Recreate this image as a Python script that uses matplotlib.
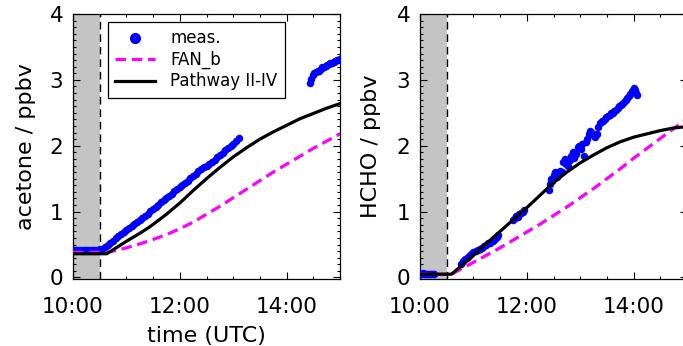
import matplotlib
matplotlib.use("Agg")
import matplotlib.pyplot as plt
from matplotlib.lines import Line2D
from matplotlib.ticker import MultipleLocator, FixedLocator, FuncFormatter

plt.rcParams['font.family'] = ['DejaVu Sans']

# ---------------- data (time in decimal hours UTC) ----------------
# acetone measurements
ace_meas_t = [10.00, 10.05, 10.10, 10.15, 10.20, 10.25, 10.30, 10.35, 10.40, 10.45,
              10.50, 10.55, 10.60, 10.65, 10.70, 10.75, 10.80, 10.85, 10.90, 10.95,
              11.00, 11.05, 11.10, 11.15, 11.20, 11.25, 11.30, 11.35, 11.40, 11.45,
              11.50, 11.55, 11.60, 11.65, 11.70, 11.75, 11.80, 11.85, 11.90, 11.95,
              12.00, 12.05, 12.10, 12.15, 12.20, 12.25, 12.30, 12.35, 12.40, 12.45,
              12.50, 12.55, 12.60, 12.65, 12.70, 12.75, 12.80, 12.85, 12.90, 12.95,
              13.00, 13.05, 13.10,
              14.43, 14.46, 14.49, 14.52, 14.55, 14.58, 14.61, 14.64, 14.67, 14.70,
              14.73, 14.76, 14.79, 14.82, 14.85, 14.88, 14.91, 14.94, 14.97, 15.00]
ace_meas_v = [0.42, 0.42, 0.41, 0.42, 0.42, 0.41, 0.42, 0.42, 0.42, 0.42,
              0.43, 0.44, 0.46, 0.49, 0.53, 0.56, 0.60, 0.63, 0.66, 0.69,
              0.72, 0.75, 0.78, 0.81, 0.84, 0.87, 0.91, 0.94, 0.97, 1.01,
              1.04, 1.07, 1.10, 1.14, 1.17, 1.21, 1.24, 1.27, 1.31, 1.34,
              1.37, 1.41, 1.44, 1.47, 1.51, 1.54, 1.57, 1.61, 1.64, 1.67,
              1.70, 1.73, 1.76, 1.79, 1.83, 1.86, 1.89, 1.93, 1.96, 2.00,
              2.03, 2.07, 2.11,
              2.95, 3.02, 3.07, 3.10, 3.12, 3.14, 3.13, 3.17, 3.19, 3.20,
              3.21, 3.23, 3.24, 3.25, 3.26, 3.27, 3.28, 3.30, 3.30, 3.31]

# acetone models
ace_mod_t = [10.00, 10.63, 10.75, 11.00, 11.25, 11.44, 11.75, 12.00, 12.25, 12.50,
             12.75, 13.00, 13.25, 13.50, 13.75, 14.00, 14.25, 14.50, 14.75, 15.00]
ace_path_v = [0.36, 0.36, 0.42, 0.55, 0.67, 0.77, 0.96, 1.13, 1.32, 1.50,
              1.67, 1.83, 1.97, 2.10, 2.21, 2.31, 2.41, 2.49, 2.57, 2.64]
ace_fan_v = [0.38, 0.38, 0.40, 0.45, 0.51, 0.56, 0.65, 0.74, 0.84, 0.96,
             1.08, 1.21, 1.34, 1.47, 1.60, 1.72, 1.84, 1.96, 2.07, 2.18]

# HCHO measurements
hcho_meas_t = [10.00, 10.03, 10.06, 10.09, 10.12, 10.15, 10.18, 10.21, 10.24, 10.27,
               10.76, 10.80, 10.84, 10.88, 10.92, 10.96, 11.00, 11.04, 11.08, 11.12,
               11.16, 11.20, 11.24, 11.28, 11.32, 11.36, 11.40, 11.44, 11.47,
               11.74, 11.77, 11.80, 11.83, 11.86, 11.89, 11.92, 11.95,
               12.41, 12.43, 12.45, 12.47, 12.50, 12.53, 12.56, 12.59, 12.62, 12.65,
               12.68, 12.71, 12.74, 12.77, 12.80, 12.83, 12.86, 12.89, 12.92, 12.95,
               12.98, 13.01, 13.04, 13.07, 13.10, 13.13, 13.16, 13.19, 13.22, 13.25,
               13.28, 13.31, 13.34, 13.37, 13.40, 13.43, 13.46, 13.49, 13.52, 13.55,
               13.58, 13.61, 13.64, 13.67, 13.70, 13.73, 13.76, 13.79, 13.82, 13.85,
               13.88, 13.91, 13.94, 13.97, 14.00, 14.02, 14.04, 14.06]
hcho_meas_v = [0.06, 0.05, 0.07, 0.06, 0.05, 0.06, 0.05, 0.06, 0.05, 0.06,
               0.21, 0.25, 0.28, 0.30, 0.33, 0.36, 0.38, 0.40, 0.42, 0.44,
               0.45, 0.48, 0.50, 0.52, 0.53, 0.55, 0.58, 0.62, 0.65,
               0.88, 0.90, 0.93, 0.92, 0.96, 0.98, 1.00, 1.02,
               1.33, 1.42, 1.50, 1.46, 1.55, 1.60, 1.52, 1.58, 1.62, 1.60,
               1.75, 1.80, 1.72, 1.70, 1.78, 1.85, 1.90, 1.82, 1.88, 1.98,
               2.00, 1.95, 2.02, 1.85, 2.05, 2.10, 2.18, 2.22, 2.20, 2.15,
               2.14, 2.18, 2.28, 2.35, 2.38, 2.37, 2.40, 2.44, 2.45, 2.47,
               2.49, 2.50, 2.53, 2.55, 2.57, 2.60, 2.62, 2.64, 2.66, 2.70,
               2.72, 2.75, 2.79, 2.83, 2.87, 2.84, 2.80, 2.77]

# HCHO models
hcho_mod_t = [10.00, 10.59, 10.75, 11.00, 11.25, 11.50, 11.75, 12.00, 12.25, 12.50,
              12.75, 13.00, 13.25, 13.50, 13.75, 14.00, 14.25, 14.50, 14.75, 15.00]
hcho_path_v = [0.05, 0.05, 0.16, 0.34, 0.52, 0.70, 0.88, 1.06, 1.25, 1.44,
               1.60, 1.74, 1.86, 1.97, 2.06, 2.13, 2.18, 2.23, 2.27, 2.29]
hcho_fan_v = [0.05, 0.05, 0.12, 0.23, 0.34, 0.45, 0.57, 0.69, 0.81, 0.94,
              1.07, 1.21, 1.35, 1.50, 1.65, 1.81, 1.96, 2.11, 2.26, 2.41]

x_ticks = [10, 12, 14]
x_ticklabels = ["10:00", "12:00", "14:00"]
y_ticks = [0, 1, 2, 3, 4]
legend_labels = ["meas.", "FAN_b", "Pathway II-IV"]
ylabels = ["acetone / ppbv", "HCHO / ppbv"]

# ---------------- styling ----------------
BLUE = "#0000FF"
MAG = "#FF00FF"
GREY = "#C4C4C4"

fig = plt.figure(figsize=(6.83, 3.46), dpi=100)
W, H = 683.0, 346.0
ax1 = fig.add_axes([73 / W, 1 - 279 / H, 267 / W, 265 / H])
ax2 = fig.add_axes([420 / W, 1 - 279 / H, 267 / W, 265 / H])


def fmt_time(v, pos):
    k = int(round(v))
    return x_ticklabels[x_ticks.index(k)] if k in x_ticks else ""


def draw(ax, mt, mv, modt, pathv, fanv, ylabel):
    ax.axvspan(10.0, 10.5, color=GREY, zorder=0, lw=0)
    ax.axvline(10.5, color="black", lw=1.0, ls=(0, (5.5, 3.5)), zorder=1)
    ax.plot(mt, mv, ls="none", marker="o", ms=5.4, mfc=BLUE, mec=BLUE, mew=0, zorder=3)
    ax.plot(modt, fanv, color=MAG, lw=2.3, ls=(0, (3.3, 1.8)), zorder=4)
    ax.plot(modt, pathv, color="black", lw=2.3, zorder=5, solid_joinstyle="round")
    ax.set_xlim(10.0, 15.0)
    ax.set_ylim(-0.023, 4.0)
    ax.xaxis.set_major_locator(FixedLocator(x_ticks))
    ax.xaxis.set_major_formatter(FuncFormatter(fmt_time))
    ax.xaxis.set_minor_locator(MultipleLocator(0.5))
    ax.yaxis.set_major_locator(FixedLocator(y_ticks))
    ax.yaxis.set_minor_locator(MultipleLocator(0.1))
    ax.tick_params(which="both", direction="in", top=True, right=True, width=0.8)
    ax.tick_params(which="major", length=5, labelsize=15.5)
    ax.tick_params(which="minor", length=2.5)
    ax.tick_params(axis="x", which="major", pad=13)
    ax.tick_params(axis="y", which="major", pad=7)
    for s in ax.spines.values():
        s.set_linewidth(0.9)
    ax.set_ylabel(ylabel, fontsize=16)


draw(ax1, ace_meas_t, ace_meas_v, ace_mod_t, ace_path_v, ace_fan_v, ylabels[0])
draw(ax2, hcho_meas_t, hcho_meas_v, hcho_mod_t, hcho_path_v, hcho_fan_v, ylabels[1])

ax1.set_xlabel("time (UTC)", fontsize=16)
ax1.xaxis.set_label_coords(0.5, -0.178)
ax1.yaxis.set_label_coords(-0.139, 0.5)
ax2.yaxis.set_label_coords(-0.146, 0.5)

handles = [
    Line2D([], [], ls="none", marker="o", ms=7, mfc=BLUE, mec=BLUE),
    Line2D([], [], color=MAG, lw=2.3, ls=(0, (3.3, 1.8))),
    Line2D([], [], color="black", lw=2.3),
]
leg = ax1.legend(handles, legend_labels, loc="upper left", bbox_to_anchor=(0.131, 0.970),
                 borderaxespad=0, fontsize=12, frameon=True, fancybox=False,
                 edgecolor="black", framealpha=1, handlelength=2.4, handletextpad=0.9,
                 labelspacing=0.2, borderpad=0.45, numpoints=1)
leg.get_frame().set_linewidth(0.9)
leg.set_zorder(10)

fig.savefig("out.png", dpi=100)
